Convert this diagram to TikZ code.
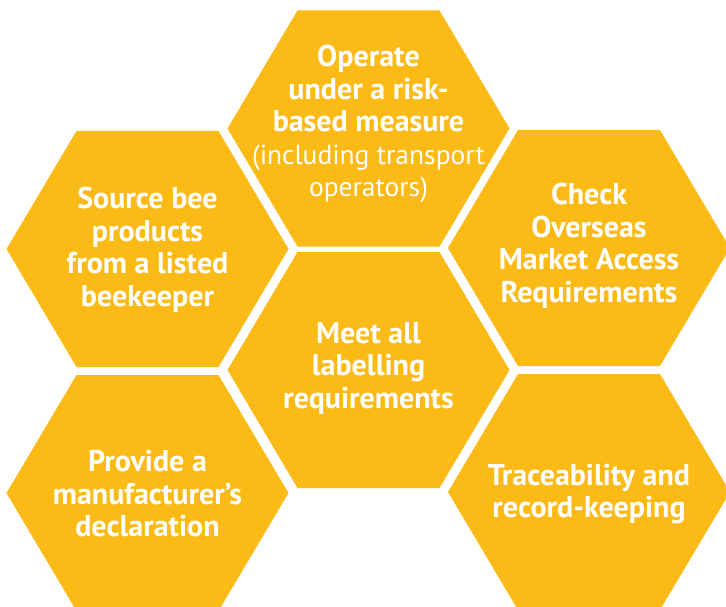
\documentclass[tikz,border=0pt]{standalone}
\usepackage{fontspec}
\setmainfont{PT Sans}
\definecolor{hexfill}{HTML}{FBBA16}
\tikzset{
  hexa/.pic={
    \fill[hexfill] (-141,0) -- (-71,-118) -- (71,-118) -- (141,0) -- (71,118) -- (-71,118) -- cycle;
  },
  hextext/.style={text=white, align=center, inner sep=0pt,
    font=\fontsize{30}{32.5}\selectfont\bfseries}
}
\newcommand\lighttext{\fontsize{27.5}{32.5}\selectfont\mdseries}
\begin{document}
\begin{tikzpicture}[x=1pt,y=-1pt]
\useasboundingbox (0,0) rectangle (726,607);
\path[clip] (0,0) rectangle (726,607);
\pic at (147.5,249) {hexa};
\pic at (368.5,128.5) {hexa};
\pic at (589,248) {hexa};
\pic at (368.5,370) {hexa};
\pic at (147.5,493) {hexa};
\pic at (589,492) {hexa};
\node[hextext] (source) at (147.5,250) {Source bee\\products\\from a listed\\beekeeper};
\node[hextext] (operate) at (368.5,124) {Operate\\under a risk-\\based measure\\\lighttext(including transport\\\lighttext operators)};
\node[hextext] (check) at (589,246) {Check\\Overseas\\Market Access\\Requirements};
\node[hextext] (meet) at (368.5,368) {Meet all\\labelling\\requirements};
\node[hextext] (provide) at (147.5,494) {Provide a\\manufacturer’s\\declaration};
\node[hextext] (trace) at (589,494) {Traceability and\\record-keeping};
\end{tikzpicture}
\end{document}
